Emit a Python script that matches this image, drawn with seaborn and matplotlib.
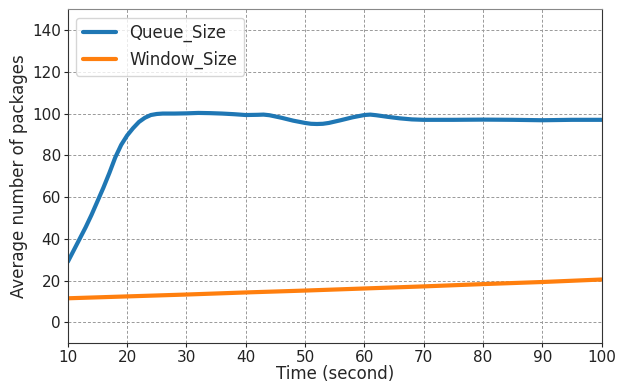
import seaborn as sns
import matplotlib.pyplot as plt
import pandas as pd

# Queue size
queue_time = [10, 11, 12, 13, 14, 15, 16, 17, 18, 19, 20, 21, 22, 23, 24, 25, 26, 28, 30, 32, 34, 36,
              38, 40, 42, 43, 44, 46, 48, 50, 51, 52, 53, 54, 56, 58, 60, 61, 62, 64, 66, 68, 70,
              75, 80, 85, 90, 95, 100]
queue_size = [29, 34.5, 40, 45.5, 51.5, 58, 64.5, 71.5, 79, 85, 89.5, 93, 96, 98, 99.3, 99.8, 100, 100,
              100.1, 100.3, 100.2, 100, 99.7, 99.3, 99.4, 99.5, 99.2, 98, 96.6, 95.5, 95.1, 95, 95.1,
              95.5, 96.8, 98.2, 99.3, 99.5, 99.2, 98.4, 97.7, 97.2, 97, 97, 97.1, 97, 96.8, 97, 97]

# Window size
window_time = [10, 20, 30, 40, 50, 60, 70, 80, 90, 100]
window_size = [11.5, 12.4, 13.3, 14.3, 15.2, 16.2, 17.2, 18.3, 19.3, 20.5]

sns.set_style("white")
plt.rcParams['font.family'] = 'sans-serif'
plt.rcParams['font.sans-serif'] = ['DejaVu Sans']

fig, ax = plt.subplots(figsize=(6.28, 3.83), dpi=100)

q = pd.DataFrame({'t': queue_time, 'v': queue_size})
w = pd.DataFrame({'t': window_time, 'v': window_size})
sns.lineplot(data=q, x='t', y='v', ax=ax, color='#1f77b4', linewidth=3, label='Queue_Size')
sns.lineplot(data=w, x='t', y='v', ax=ax, color='#ff7f0e', linewidth=3, label='Window_Size')

ax.set_xlim(10, 100)
ax.set_ylim(-10, 150)
ax.set_xticks(range(10, 101, 10))
ax.set_yticks(range(0, 141, 20))
ax.grid(True, linestyle=(0, (3, 2)), color='#999999', linewidth=0.7)
ax.tick_params(axis='both', labelsize=11, colors='#222222', length=3, width=0.8,
               direction='out', left=True, bottom=True, pad=2)
ax.set_xlabel("Time (second)", fontsize=12, labelpad=0)
ax.set_ylabel("Average number of packages", fontsize=12, labelpad=3)
for s in ['left', 'bottom', 'right']:
    ax.spines[s].set_color('#333333')
ax.spines['top'].set_color('#888888')
ax.legend(loc='upper left', fontsize=12)

plt.subplots_adjust(left=0.108, right=0.958, top=0.976, bottom=0.104)
plt.savefig("out.png")
